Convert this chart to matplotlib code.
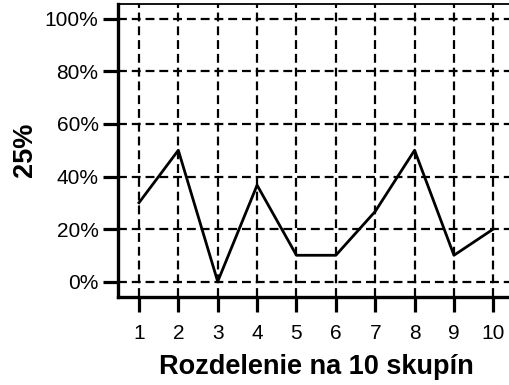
import matplotlib
matplotlib.use("Agg")
import matplotlib.pyplot as plt
from matplotlib.ticker import FuncFormatter

plt.rcParams['font.family'] = ['Liberation Sans', 'DejaVu Sans']

groups = [1, 2, 3, 4, 5, 6, 7, 8, 9, 10]
share = [30.0, 50.0, 0.0, 36.7, 10.0, 10.0, 26.7, 50.0, 10.0, 20.0]
y_ticks = [0, 20, 40, 60, 80, 100]
x_label = "Rozdelenie na 10 skupín"
y_label = "25%"

fig = plt.figure(figsize=(5.10, 3.85), dpi=100)
# axes run slightly past the right edge of the canvas
ax = fig.add_axes([118 / 510, 1 - 296.5 / 385, (514.3 - 118) / 510, (296.5 - 4) / 385])

ax.plot(groups, share, color='black', lw=2.0, zorder=3)

ax.set_xlim(0.468, 10.532)
ax.set_ylim(-5.7, 105.7)
ax.set_xticks(groups)
ax.set_yticks(y_ticks)
ax.yaxis.set_major_formatter(FuncFormatter(lambda v, p: f"{v:.0f}%"))

ax.grid(True, color='black', lw=1.6, linestyle=(0, (4.0, 2.2)), zorder=1)

for side in ('left', 'bottom'):
    ax.spines[side].set_linewidth(2.4)
ax.spines['top'].set_linewidth(1.3)
ax.spines['right'].set_visible(False)

ax.tick_params(axis='both', which='major', direction='out', length=11, width=2.3,
               labelsize=15, color='black', labelcolor='black')
ax.tick_params(axis='y', pad=3)
ax.tick_params(axis='x', pad=9, top=True, labeltop=False)
for t in ax.xaxis.get_major_ticks():
    t.tick2line.set_marker(3)  # TICKDOWN on the top spine points inward
    t.tick2line.set_markersize(3)
    t.tick2line.set_markeredgewidth(1.3)

ax.set_xlabel(x_label, fontsize=19.5, fontweight='bold', labelpad=8)
ax.set_ylabel(y_label, fontsize=19.5, fontweight='bold', labelpad=5)

fig.savefig("out.png", dpi=100)
